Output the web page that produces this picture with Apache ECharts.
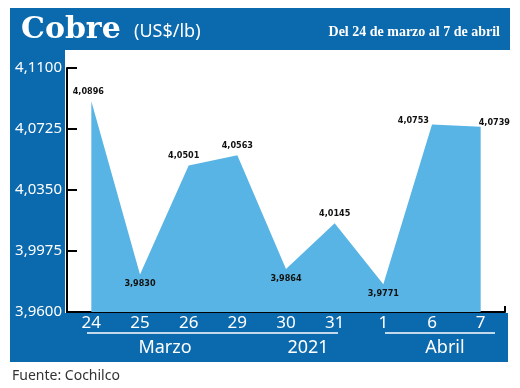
<!DOCTYPE html>
<html><head><meta charset="utf-8">
<script src="https://cdn.jsdelivr.net/npm/echarts@6/dist/echarts.min.js"></script>
<style>html,body{margin:0;padding:0;background:#fff}#c{width:520px;height:388px}</style>
</head><body><div id="c"></div>
<script>
const categories = ['24','25','26','29','30','31','1','6','7'];
const prices = [4.0896, 3.9830, 4.0501, 4.0563, 3.9864, 4.0145, 3.9771, 4.0753, 4.0739];
const yTicks = [3.96, 3.9975, 4.035, 4.0725, 4.11];
const periodLabels = ['Marzo', '2021', 'Abril'];
const title = 'Cobre';
const unit = '(US$/lb)';
const subtitle = 'Del 24 de marzo al 7 de abril';
const source = 'Fuente: Cochilco';

const BLUE = '#0b69ad';
const AREA = '#58b4e4';
const fmt = v => v.toFixed(4).replace('.', ',');
const labelPlacement = ['top','bottom','top','top','bottom','top','bottom','left','right'];
const labelOffset = [[-3,0],[0,0],[-5,0],[0,0],[0,0],[0,0],[0,0],[2,-4],[-7,-4]];

const chart = echarts.init(document.getElementById('c'));
chart.setOption({
  animation: false,
  backgroundColor: '#fff',
  grid: { left: 67, right: 15, top: 68, bottom: 76 },
  graphic: [
    { type: 'rect', z: -10, shape: { x: 10, y: 8, width: 500, height: 42 }, style: { fill: BLUE } },
    { type: 'rect', z: -10, shape: { x: 10, y: 50, width: 55, height: 312 }, style: { fill: BLUE } },
    { type: 'rect', z: -10, shape: { x: 10, y: 313, width: 498, height: 49 }, style: { fill: BLUE } },
    { type: 'line', shape: { x1: 87, y1: 333, x2: 338, y2: 333 }, style: { stroke: '#fff', lineWidth: 1.5 } },
    { type: 'line', shape: { x1: 385, y1: 333, x2: 495, y2: 333 }, style: { stroke: '#fff', lineWidth: 1.5 } },
    { type: 'line', shape: { x1: 505, y1: 312, x2: 505, y2: 306 }, style: { stroke: '#000', lineWidth: 2 } },
    { type: 'text', x: 165, y: 348, style: { text: periodLabels[0], fill: '#fff', font: '18px "Noto Sans"', align: 'center', verticalAlign: 'middle' } },
    { type: 'text', x: 308, y: 348, style: { text: periodLabels[1], fill: '#fff', font: '18px "Noto Sans"', align: 'center', verticalAlign: 'middle' } },
    { type: 'text', x: 445, y: 348, style: { text: periodLabels[2], fill: '#fff', font: '18px "Noto Sans"', align: 'center', verticalAlign: 'middle' } },
    { type: 'text', x: 21, y: 30, style: { text: title, fill: '#fff', font: 'bold 30px "DejaVu Serif"', verticalAlign: 'middle' } },
    { type: 'text', x: 134, y: 32, style: { text: unit, fill: '#fff', font: '18px "Noto Sans"', verticalAlign: 'middle' } },
    { type: 'text', x: 500, y: 32, style: { text: subtitle, fill: '#fff', font: 'bold 14px "Liberation Serif"', align: 'right', verticalAlign: 'middle' } },
    { type: 'text', x: 12, y: 376, style: { text: source, fill: '#333', font: '14px "Noto Sans"', verticalAlign: 'middle' } }
  ],
  xAxis: {
    type: 'category',
    data: categories,
    boundaryGap: true,
    axisLine: { lineStyle: { color: '#000', width: 2 } },
    axisTick: { show: false },
    axisLabel: { color: '#fff', fontSize: 17, fontFamily: 'Noto Sans', margin: 3 }
  },
  yAxis: {
    type: 'value',
    min: 3.96, max: 4.11,
    splitLine: { show: false },
    axisLine: { show: true, lineStyle: { color: '#000', width: 2 } },
    axisTick: { show: true, inside: true, length: 10, lineStyle: { color: '#000', width: 2 }, customValues: yTicks },
    axisLabel: { color: '#fff', fontSize: 15, fontFamily: 'Noto Sans', margin: 5, customValues: yTicks, formatter: v => fmt(v) }
  },
  series: [{
    type: 'line',
    data: prices.map((v, i) => ({
      value: v,
      label: { position: labelPlacement[i], offset: labelOffset[i] }
    })),
    symbol: 'circle', symbolSize: 0, showSymbol: true,
    lineStyle: { width: 0, color: AREA },
    itemStyle: { color: AREA },
    areaStyle: { color: AREA, opacity: 1 },
    label: {
      show: true, color: '#111', fontSize: 9, fontWeight: 'bold',
      fontFamily: '"DejaVu Sans Condensed", "Liberation Sans Narrow", sans-serif', distance: 5,
      formatter: p => fmt(p.value)
    }
  }]
});
</script></body></html>
